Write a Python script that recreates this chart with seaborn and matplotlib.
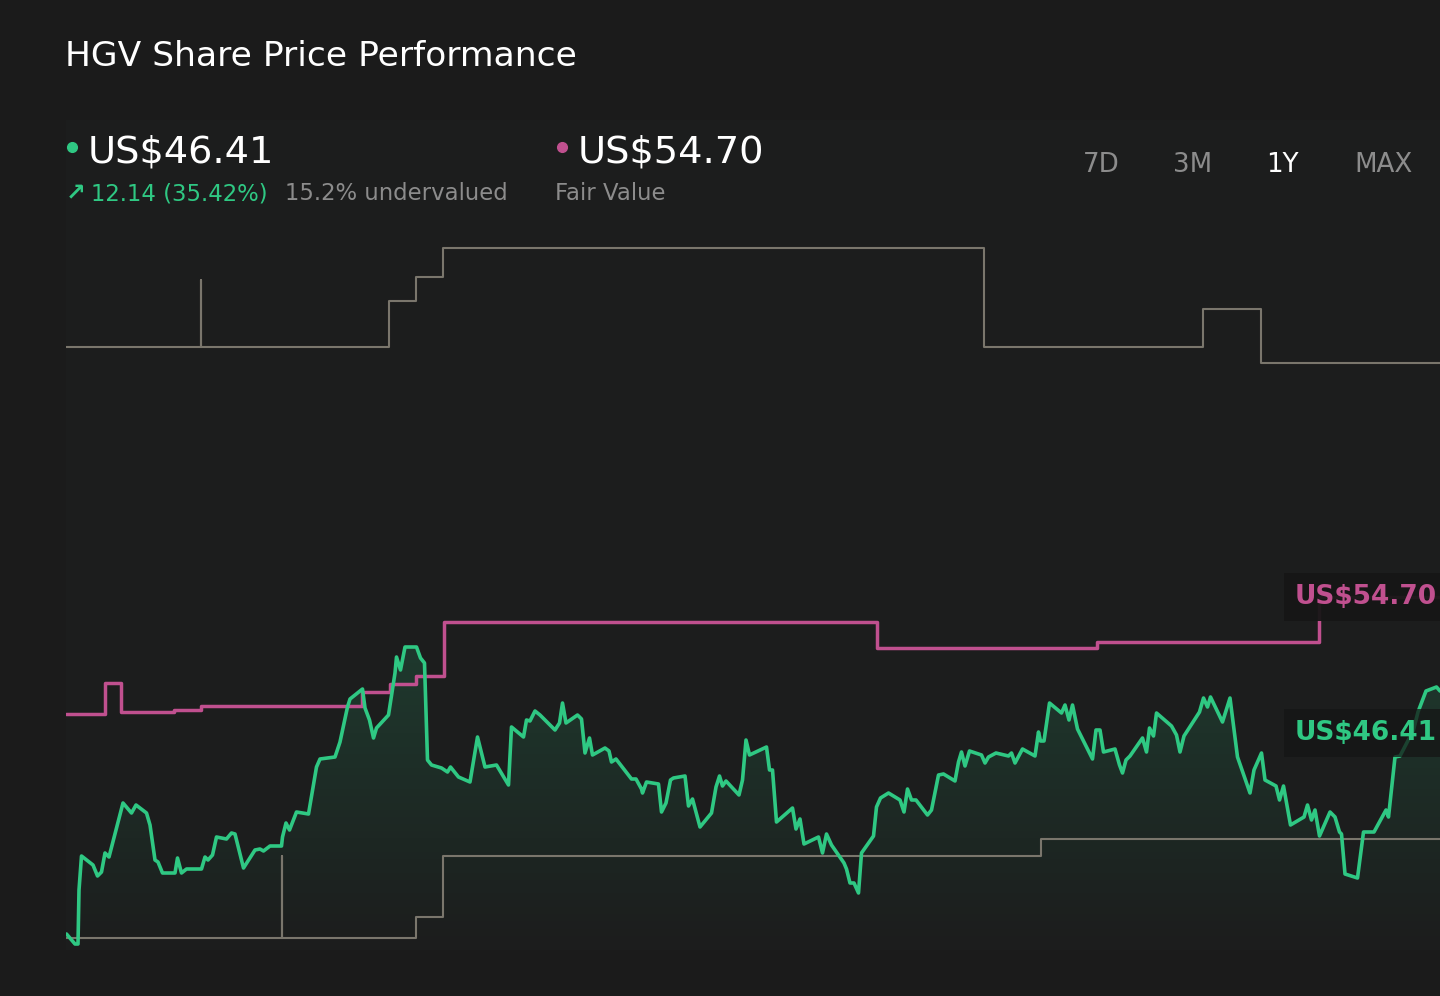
import numpy as np
import seaborn as sns
import matplotlib.pyplot as plt
from matplotlib.lines import Line2D
from matplotlib.colors import LinearSegmentedColormap

# share price, x = trading session index, y = US$
price_day = [0.1, 1.8, 2.4, 2.6, 3.1, 5.4, 6.3, 7.1, 7.8, 8.6, 11.4, 13.1, 14.0, 16.1, 16.8, 17.8, 18.4, 19.3,
             21.8, 22.3, 23.1, 24.1, 27.1, 27.8, 28.4, 29.3, 30.1, 32.1, 33.1, 33.8, 35.5, 37.8, 38.8, 39.5, 40.8,
             43.1, 43.3, 44.0, 44.7, 46.1, 48.5, 50.1, 50.8, 53.8, 54.8, 56.3, 56.8, 59.3, 59.8, 60.7, 61.5, 62.1,
             64.5, 65.8, 66.1, 66.9, 67.8, 70.1, 70.9, 71.7, 72.3, 73.1, 75.1, 76.3, 76.9, 78.5, 80.8, 82.3, 83.8,
             86.1, 88.5, 89.1, 91.5, 92.1, 92.8, 93.8, 94.8, 97.8, 98.7, 99.3, 100.0, 102.3, 103.1, 103.8, 104.7,
             105.3, 107.8, 108.6, 109.1, 110.0, 113.1, 114.0, 115.1, 115.3, 116.1, 118.5, 119.1, 120.0, 120.9,
             121.5, 123.8, 124.5, 125.3, 126.8, 129.1, 130.0, 130.7, 131.3, 132.0, 134.6, 135.3, 136.0, 136.7,
             140.1, 140.7, 141.3, 142.1, 145.3, 146.0, 146.8, 147.6, 150.5, 151.3, 152.1, 153.1, 155.6, 156.1,
             156.8, 157.6, 158.5, 159.1, 161.5, 162.1, 162.9, 164.5, 166.8, 167.6, 168.3, 169.1, 170.0, 172.3,
             173.1, 174.5, 175.5, 177.8, 178.5, 179.1, 179.8, 180.7, 183.1, 183.8, 184.5, 186.0, 188.5, 189.1,
             189.8, 191.3, 193.8, 194.5, 194.9, 195.6, 196.7, 199.1, 199.8, 200.6, 201.3, 202.3, 205.3, 206.0,
             206.8, 207.5, 209.8, 210.7, 211.3, 212.0, 212.8, 215.3, 216.1, 216.7, 217.5, 218.1, 221.1, 222.1,
             222.8, 223.6, 226.7, 227.5, 228.3, 228.9, 231.3, 232.8, 234.3, 236.8, 237.6, 239.1, 239.8, 242.0,
             242.7, 243.5, 244.9, 247.6, 248.3, 249.1, 249.8, 250.7, 252.8, 253.8, 254.7, 255.1, 255.8, 258.3,
             259.5, 261.6, 264.0, 264.5, 265.8, 266.8, 269.5, 270.4, 272.0, 274.1, 274.8, 276.5]
price_usd = [34.35, 33.85, 33.85, 36.55, 38.25, 37.80, 37.25, 37.45, 38.40, 38.20, 40.90, 40.40, 40.80, 40.40,
             39.80, 38.05, 37.95, 37.40, 37.40, 38.15, 37.40, 37.60, 37.60, 38.20, 38.05, 38.30, 39.20, 39.10,
             39.40, 39.35, 37.65, 38.55, 38.60, 38.50, 38.75, 38.75, 39.20, 39.90, 39.55, 40.45, 40.35, 42.70,
             43.10, 43.20, 43.95, 45.70, 46.10, 46.60, 45.65, 45.05, 44.15, 44.65, 45.30, 47.40, 48.20, 47.55,
             48.70, 48.70, 48.15, 47.90, 43.05, 42.80, 42.65, 42.45, 42.70, 42.20, 41.95, 44.20, 42.70, 42.80,
             41.80, 44.70, 44.20, 45.05, 45.00, 45.50, 45.30, 44.55, 44.90, 45.90, 44.90, 45.30, 45.10, 43.40,
             44.15, 43.30, 43.65, 43.50, 42.95, 43.10, 42.10, 42.10, 41.60, 41.40, 41.95, 41.85, 40.45, 40.90,
             42.05, 42.15, 42.25, 40.75, 41.10, 39.70, 40.40, 41.70, 42.25, 41.75, 42.00, 41.30, 42.05, 44.05,
             43.30, 43.70, 42.55, 42.55, 39.95, 40.65, 39.60, 40.10, 38.85, 39.20, 38.40, 39.35, 38.80, 37.90,
             37.60, 36.90, 36.90, 36.40, 38.40, 39.25, 40.70, 41.15, 41.40, 41.05, 40.45, 41.60, 41.05, 41.05,
             40.30, 40.55, 42.30, 42.35, 42.00, 42.95, 43.45, 42.75, 43.50, 43.30, 42.90, 43.20, 43.40, 43.25,
             43.40, 42.90, 43.60, 43.25, 44.45, 44.00, 44.00, 45.90, 45.40, 45.80, 45.05, 45.80, 44.60, 43.10,
             44.55, 44.55, 43.45, 43.60, 42.80, 42.40, 43.05, 43.25, 44.15, 43.45, 44.65, 44.25, 45.40, 44.75,
             44.30, 43.45, 44.25, 45.45, 46.15, 45.70, 46.20, 44.95, 46.15, 43.20, 41.40, 42.55, 43.40, 42.05,
             41.75, 41.05, 41.75, 39.80, 40.20, 40.80, 40.05, 40.55, 39.25, 40.45, 40.20, 39.45, 39.35, 37.35,
             37.15, 39.45, 39.45, 40.55, 40.20, 43.20, 43.25, 44.55, 45.45, 46.50, 46.70, 46.50, 46.41]

# fair value estimate (step changes)
fair_day = [0, 7.8, 10.9, 21.6, 27.1, 59.3, 64.8, 70.1, 75.6, 162.2, 206.2, 250.7, 282]
fair_usd = [45.35, 46.90, 45.45, 45.55, 45.75, 46.45, 46.85, 47.25, 49.95, 48.65, 48.95, 51.20, 51.20]

# analyst high / low targets (step changes)
high_day = [0, 27.0, 27.1, 64.7, 70.0, 75.5, 183.7, 227.4, 239.0, 282]
high_usd = [63.70, 67.05, 63.70, 66.00, 67.20, 68.65, 63.70, 65.60, 62.90, 62.90]
low_day = [0, 43.1, 43.2, 70.0, 75.5, 195.1, 282]
low_usd = [34.17, 38.25, 34.17, 35.19, 38.25, 39.09, 39.09]

title = "HGV Share Price Performance"
last_price = "US$46.41"
change_txt = "12.14 (35.42%)"
valuation_txt = "15.2% undervalued"
fair_price = "US$54.70"
ranges = ["7D", "3M", "1Y", "MAX"]
active_range = "1Y"

bg = "#1b1b1b"
panel = "#1c1d1d"
green = "#2fc883"
pink = "#c0508f"
grey_line = "#7a766c"
grey_txt = "#8c8c8c"

sns.set_theme(style="dark", rc={"figure.facecolor": bg, "axes.facecolor": panel})
plt.rcParams["font.family"] = ["DejaVu Sans"]

W, H = 1440, 996
fig = plt.figure(figsize=(W / 100, H / 100), dpi=100)
xmax = 282
ax = fig.add_axes([66 / W, 46 / H, xmax * 5 / W, 830 / H])
ylo, yhi = 33.55, 75.05

# analyst range
sns.lineplot(x=high_day, y=high_usd, ax=ax, color=grey_line, linewidth=1.5,
             drawstyle="steps-post", sort=False, estimator=None, zorder=2)
sns.lineplot(x=low_day, y=low_usd, ax=ax, color=grey_line, linewidth=1.5,
             drawstyle="steps-post", sort=False, estimator=None, zorder=2)

# price area with a fading fill
poly = ax.fill_between(price_day, price_usd, ylo, color="none", lw=0)
cmap = LinearSegmentedColormap.from_list("g", [(0.18, 0.78, 0.51, 0.0), (0.18, 0.78, 0.51, 0.17)])
grad = np.linspace(0, 1, 256).reshape(-1, 1)
img = ax.imshow(grad, extent=[0, xmax, ylo, max(price_usd)], origin="lower", cmap=cmap,
                aspect="auto", zorder=1)
img.set_clip_path(poly.get_paths()[0], transform=ax.transData)

sns.lineplot(x=fair_day, y=fair_usd, ax=ax, color=pink, linewidth=2.5,
             drawstyle="steps-post", sort=False, estimator=None, zorder=3)
sns.lineplot(x=price_day, y=price_usd, ax=ax, color=green, linewidth=2.6,
             sort=False, estimator=None, zorder=4)

ax.set_xlim(0, xmax)
ax.set_ylim(ylo, yhi)
ax.set_xticks([])
ax.set_yticks([])
ax.set_xlabel("")
ax.set_ylabel("")
for s in ax.spines.values():
    s.set_visible(False)

# end labels
ax.text(245.8, 51.2, fair_price, color=pink, fontsize=19, fontweight="bold", va="center", zorder=6,
        bbox=dict(boxstyle="square,pad=0.4", fc="#161616", ec="none", alpha=0.95))
ax.text(245.8, 44.4, last_price, color=green, fontsize=19, fontweight="bold", va="center", zorder=6,
        bbox=dict(boxstyle="square,pad=0.4", fc="#151515", ec="none", alpha=0.75))

# header
def fx(px):
    return px / W

def fy(py):
    return 1 - py / H

fig.text(fx(65), fy(66), title, color="white", fontsize=24.8, va="baseline")
fig.add_artist(Line2D([fx(72)], [fy(147)], marker="o", color=green, markersize=7,
                      transform=fig.transFigure))
fig.add_artist(Line2D([fx(562)], [fy(147)], marker="o", color=pink, markersize=7,
                      transform=fig.transFigure))
fig.text(fx(88), fy(162), last_price, color="white", fontsize=27.6, va="baseline")
fig.text(fx(578), fy(162), fair_price, color="white", fontsize=27.6, va="baseline")
fig.text(fx(66), fy(200), "\u2197", color=green, fontsize=17, fontweight="bold", va="baseline")
fig.text(fx(91), fy(200), change_txt, color=green, fontsize=16.4, va="baseline")
fig.text(fx(285), fy(200), valuation_txt, color=grey_txt, fontsize=16.4, va="baseline")
fig.text(fx(555), fy(200), "Fair Value", color=grey_txt, fontsize=16.4, va="baseline")

for label, px in zip(ranges, [1083, 1173, 1266, 1354]):
    fig.text(fx(px), fy(172), label, fontsize=18.8, va="baseline",
             color="white" if label == active_range else grey_txt)

fig.savefig("out.png", dpi=100, facecolor=bg)
